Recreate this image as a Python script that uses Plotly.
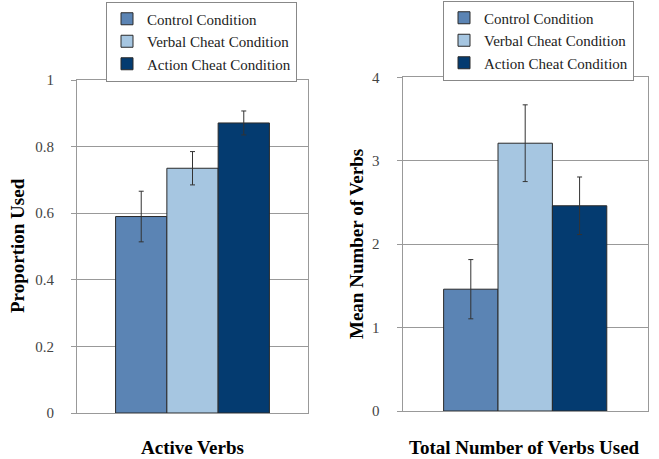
import plotly.graph_objects as go

conditions = ["Control Condition", "Verbal Cheat Condition", "Action Cheat Condition"]
colors = ["#5B84B4", "#A6C6E1", "#043B70"]

left_category = ["Active Verbs"]
left_values = [0.59, 0.735, 0.871]
left_errors = [0.076, 0.05, 0.036]

right_category = ["Total Number of Verbs Used"]
right_values = [1.46, 3.21, 2.46]
right_errors = [0.355, 0.46, 0.345]

left_ticks = [0, 0.2, 0.4, 0.6, 0.8, 1]
left_ticklabels = ["0", "0.2", "0.4", "0.6", "0.8", "1"]
right_ticks = [0, 1, 2, 3, 4]
right_ticklabels = ["0", "1", "2", "3", "4"]

FONT = "Liberation Serif, Times New Roman, serif"
W, H = 659, 459

fig = go.Figure()
for i, name in enumerate(conditions):
    fig.add_trace(go.Bar(
        x=left_category, y=[left_values[i]], name=name,
        marker=dict(color=colors[i], line=dict(color="#2a2a2a", width=1)),
        error_y=dict(type="data", array=[left_errors[i]], color="#333333", thickness=1, width=2.5),
        xaxis="x", yaxis="y", legend="legend", legendgroup="l" + str(i),
    ))
for i, name in enumerate(conditions):
    fig.add_trace(go.Bar(
        x=right_category, y=[right_values[i]], name=name,
        marker=dict(color=colors[i], line=dict(color="#2a2a2a", width=1)),
        error_y=dict(type="data", array=[right_errors[i]], color="#333333", thickness=1, width=2.5),
        xaxis="x2", yaxis="y2", legend="legend2", legendgroup="r" + str(i),
    ))

axis_common = dict(showline=True, linecolor="#999999", linewidth=1.2, mirror=True, automargin=False)

fig.update_layout(
    width=W, height=H, autosize=False,
    margin=dict(l=0, r=0, t=0, b=0, pad=0, autoexpand=False),
    paper_bgcolor="white", plot_bgcolor="white",
    font=dict(family=FONT, color="#222222"),
    barmode="group", bargap=0.334, bargroupgap=0,
    xaxis=dict(domain=[77 / W, 308 / W], showticklabels=False, ticks="", anchor="y", **axis_common),
    yaxis=dict(domain=[1 - 413 / H, 1 - 80 / H], range=[0, 1], tickvals=left_ticks, ticktext=left_ticklabels,
               showgrid=True, gridcolor="#999999", gridwidth=1, ticks="outside", ticklen=5, tickcolor="#999999",
               tickfont=dict(family=FONT, size=15, color="#444444"), ticklabelstandoff=14, anchor="x",
               zeroline=False, **axis_common),
    xaxis2=dict(domain=[402.7 / W, 647.7 / W], showticklabels=False, ticks="", anchor="y2", **axis_common),
    yaxis2=dict(domain=[1 - 411 / H, 1 - 77.3 / H], range=[0, 4], tickvals=right_ticks, ticktext=right_ticklabels,
                showgrid=True, gridcolor="#999999", gridwidth=1, ticks="outside", ticklen=5, tickcolor="#999999",
                tickfont=dict(family=FONT, size=15, color="#444444"), ticklabelstandoff=14, anchor="x2",
                zeroline=False, **axis_common),
    legend=dict(x=106 / W, y=1 - 1.5 / H, xanchor="left", yanchor="top", bgcolor="white",
                bordercolor="#888888", borderwidth=1, font=dict(family=FONT, size=15, color="#222222"),
                traceorder="grouped", tracegroupgap=0, itemwidth=30),
    legend2=dict(x=443 / W, y=1 - 0.5 / H, xanchor="left", yanchor="top", bgcolor="white",
                 bordercolor="#888888", borderwidth=1, font=dict(family=FONT, size=15, color="#222222"),
                 traceorder="grouped", tracegroupgap=0, itemwidth=30),
    showlegend=True,
)

annotations = [
    dict(text="<b>Proportion Used</b>", x=17 / W, y=1 - 246 / H, xref="paper", yref="paper",
         xanchor="center", yanchor="middle",
         textangle=-90, showarrow=False, font=dict(family=FONT, size=19, color="black")),
    dict(text="<b>Active Verbs</b>", x=192 / W, y=1 - 447 / H, xref="paper", yref="paper",
         xanchor="center", yanchor="middle",
         showarrow=False, font=dict(family=FONT, size=19, color="black")),
    dict(text="<b>Mean Number of Verbs</b>", x=356 / W, y=1 - 244 / H, xref="paper", yref="paper",
         xanchor="center", yanchor="middle",
         textangle=-90, showarrow=False, font=dict(family=FONT, size=19, color="black")),
    dict(text="<b>Total Number of Verbs Used</b>", x=524 / W, y=1 - 447 / H, xref="paper", yref="paper",
         xanchor="center", yanchor="middle",
         showarrow=False, font=dict(family=FONT, size=19, color="black")),
]
fig.update_layout(annotations=annotations)

fig.write_html("out.html", config={"displayModeBar": False},
               post_script="document.body.style.margin='0';")
